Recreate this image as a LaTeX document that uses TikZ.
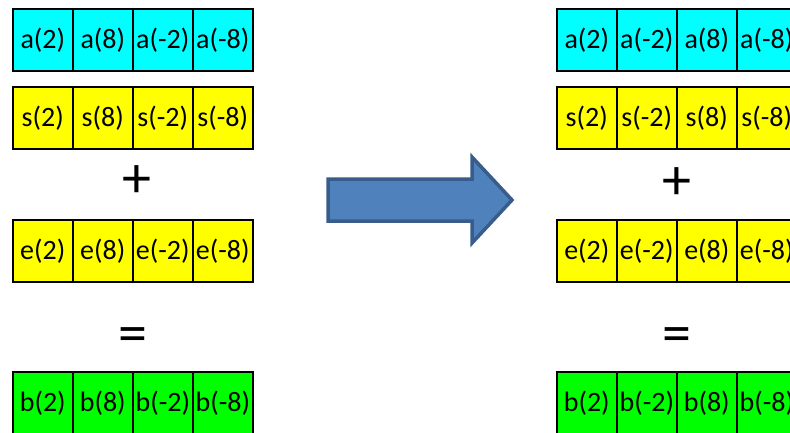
\documentclass[tikz,border=0pt]{standalone}
\usepackage{fontspec}
\setmainfont{Carlito}
\definecolor{arrowfill}{HTML}{4F81BD}
\definecolor{arrowline}{HTML}{385D8A}
\definecolor{cellcyan}{HTML}{00FFFF}
\definecolor{cellyellow}{HTML}{FFFF00}
\definecolor{cellgreen}{HTML}{00FF00}
\begin{document}
\begin{tikzpicture}[x=1pt,y=-1pt,
  cell/.style={draw=black,line width=1.6pt,minimum width=60pt,minimum height=62pt,
    inner sep=0pt,anchor=north west,font=\fontsize{28}{30}\selectfont},
  cyancell/.style={cell,fill=cellcyan},
  yellowcell/.style={cell,fill=cellyellow},
  greencell/.style={cell,fill=cellgreen},
  op/.style={inner sep=0pt,font=\fontsize{58}{60}\selectfont}]
\useasboundingbox (0,0) rectangle (790,432);
\clip (0,0) rectangle (790,432);
% left block
\foreach \t [count=\i] in {a(2),a(8),a(-2),a(-8)}
  \node[cyancell] (la\i) at ({12+60*(\i-1)},8) {\t};
\foreach \t [count=\i] in {s(2),s(8),s(-2),s(-8)}
  \node[yellowcell] (ls\i) at ({12+60*(\i-1)},86) {\t};
\foreach \t [count=\i] in {e(2),e(8),e(-2),e(-8)}
  \node[yellowcell] (le\i) at ({12+60*(\i-1)},219) {\t};
\foreach \t [count=\i] in {b(2),b(8),b(-2),b(-8)}
  \node[greencell] (lb\i) at ({12+60*(\i-1)},371) {\t};
\node[op] (lplus) at (136.5,182) {+};
\node[op] (leq) at (133,340) {=};
% right block
\foreach \t [count=\i] in {a(2),a(-2),a(8),a(-8)}
  \node[cyancell] (ra\i) at ({556+60*(\i-1)},8) {\t};
\foreach \t [count=\i] in {s(2),s(-2),s(8),s(-8)}
  \node[yellowcell] (rs\i) at ({556+60*(\i-1)},86) {\t};
\foreach \t [count=\i] in {e(2),e(-2),e(8),e(-8)}
  \node[yellowcell] (re\i) at ({556+60*(\i-1)},219) {\t};
\foreach \t [count=\i] in {b(2),b(-2),b(8),b(-8)}
  \node[greencell] (rb\i) at ({556+60*(\i-1)},371) {\t};
\node[op] (rplus) at (676.5,184) {+};
\node[op] (req) at (677,340) {=};
% block arrow
\draw[fill=arrowfill,draw=arrowline,line width=3.5pt,line join=miter]
  (328,179) -- (472,179) -- (472,157) -- (512,200) -- (472,243) -- (472,221) -- (328,221) -- cycle;
\end{tikzpicture}
\end{document}
